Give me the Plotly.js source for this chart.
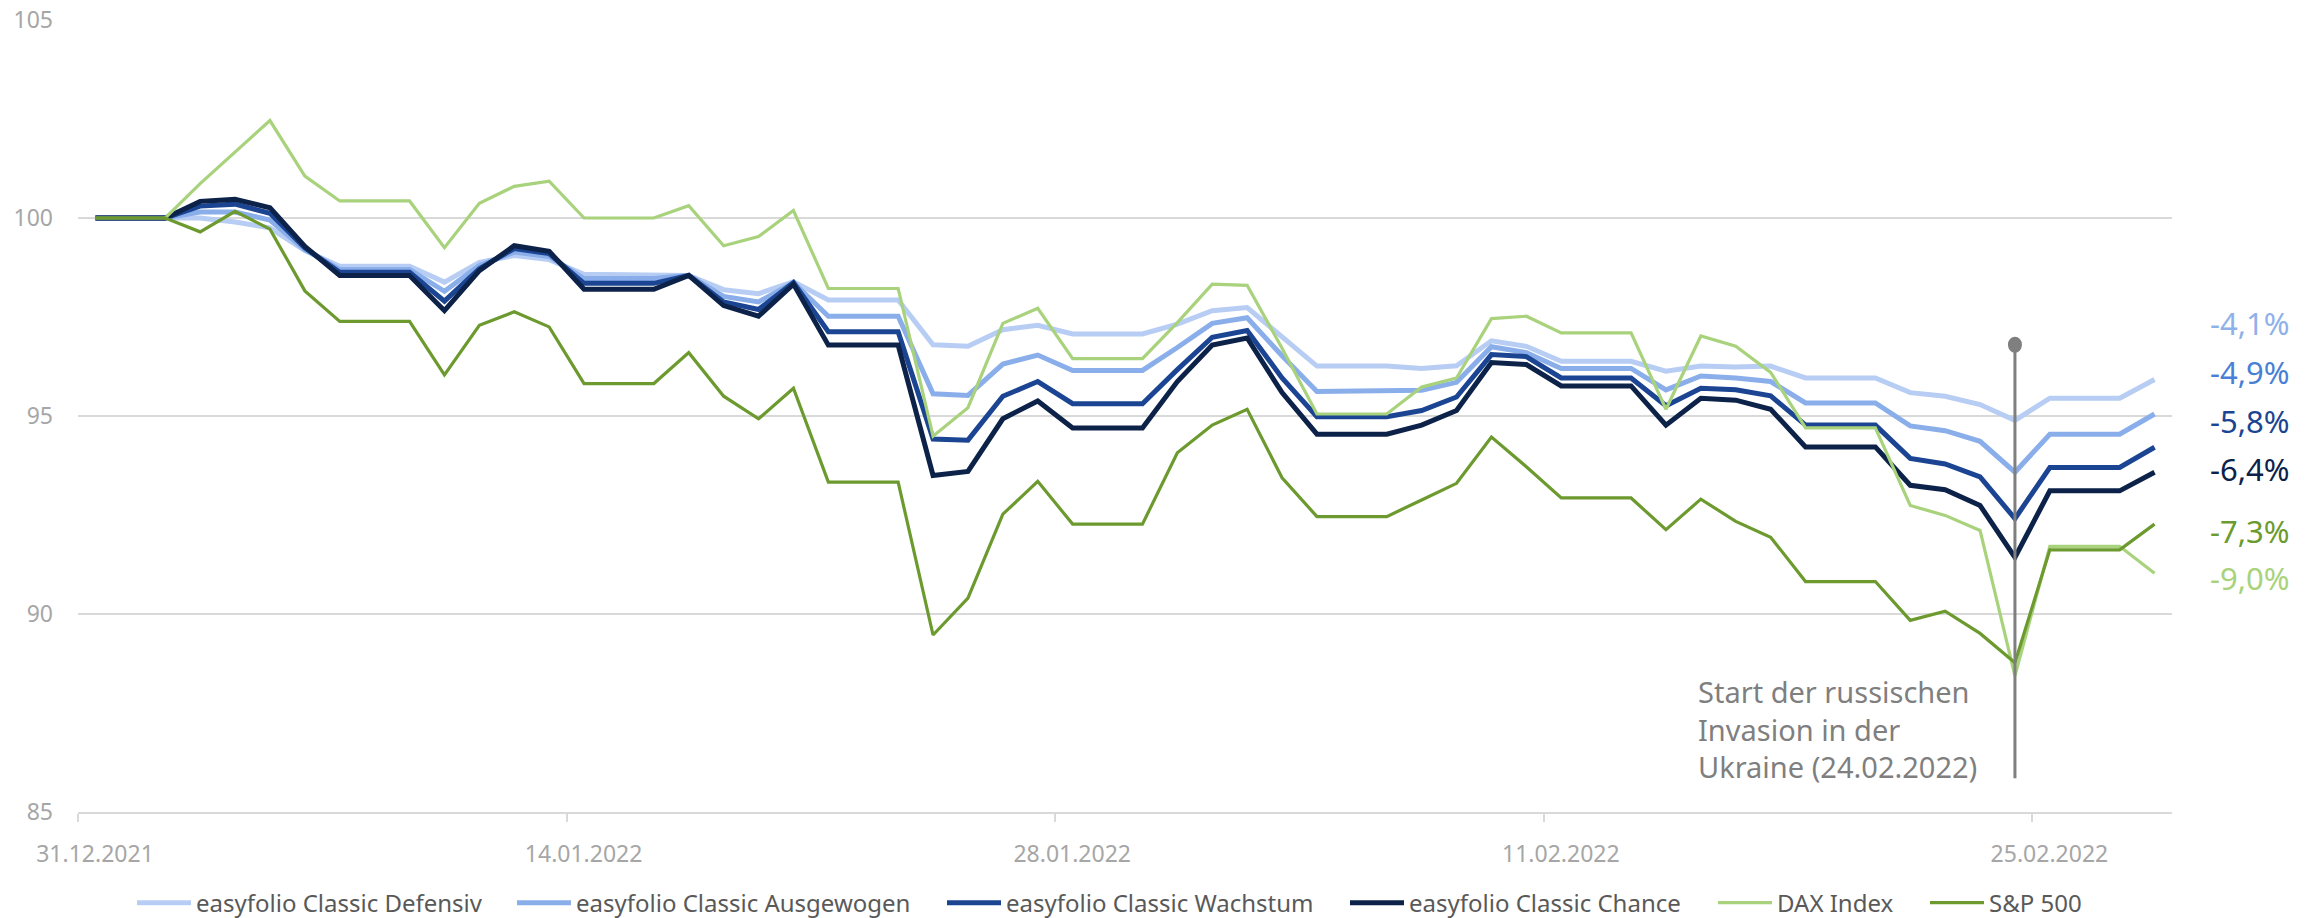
<!DOCTYPE html>
<html>
<head>
<meta charset="utf-8">
<script src="https://cdn.plot.ly/plotly-3.0.1.min.js"></script>
<style>
html,body{margin:0;padding:0;background:#ffffff;}
#chart{width:2315px;height:918px;}
</style>
</head>
<body>
<div id="chart"></div>
<script>
// ---------- DATA ----------
const dates = [
 '2021-12-31',
 '2022-01-01','2022-01-02','2022-01-03','2022-01-04','2022-01-05','2022-01-06','2022-01-07','2022-01-08','2022-01-09','2022-01-10',
 '2022-01-11','2022-01-12','2022-01-13','2022-01-14','2022-01-15','2022-01-16','2022-01-17','2022-01-18','2022-01-19','2022-01-20',
 '2022-01-21','2022-01-22','2022-01-23','2022-01-24','2022-01-25','2022-01-26','2022-01-27','2022-01-28','2022-01-29','2022-01-30','2022-01-31',
 '2022-02-01','2022-02-02','2022-02-03','2022-02-04','2022-02-05','2022-02-06','2022-02-07','2022-02-08','2022-02-09','2022-02-10',
 '2022-02-11','2022-02-12','2022-02-13','2022-02-14','2022-02-15','2022-02-16','2022-02-17','2022-02-18','2022-02-19','2022-02-20',
 '2022-02-21','2022-02-22','2022-02-23','2022-02-24','2022-02-25','2022-02-26','2022-02-27','2022-02-28'
];

const defensiv = [
 100,100,100,100.0,99.9,99.75,99.18,98.78,98.78,98.78,
 98.38,98.88,99.05,98.95,98.58,98.58,98.58,98.55,98.19,98.09,
 98.39,97.93,97.93,97.93,96.8,96.76,97.18,97.29,97.07,97.07,
 97.07,97.32,97.66,97.74,96.99,96.26,96.26,96.26,96.2,96.27,
 96.9,96.76,96.38,96.38,96.38,96.13,96.26,96.24,96.26,95.96,
 95.96,95.96,95.59,95.5,95.29,94.89,95.45,95.45,95.45,95.92
];
const ausgewogen = [
 100,100,100,100.15,100.15,99.95,99.2,98.7,98.7,98.7,
 98.15,98.8,99.14,99.03,98.47,98.47,98.47,98.55,98.02,97.88,
 98.37,97.52,97.52,97.52,95.56,95.52,96.31,96.54,96.15,96.15,
 96.15,96.73,97.34,97.48,96.52,95.62,95.62,95.62,95.65,95.85,
 96.75,96.6,96.2,96.2,96.2,95.66,96.01,95.96,95.87,95.33,
 95.33,95.33,94.75,94.63,94.36,93.58,94.54,94.54,94.54,95.05
];
const wachstum = [
 100,100,100,100.3,100.35,100.12,99.25,98.63,98.63,98.63,
 97.9,98.72,99.23,99.1,98.35,98.35,98.35,98.55,97.88,97.69,
 98.37,97.13,97.13,97.13,94.42,94.39,95.5,95.87,95.31,95.31,
 95.31,96.17,96.99,97.16,95.96,94.98,94.98,94.98,95.14,95.48,
 96.55,96.5,95.96,95.96,95.96,95.26,95.7,95.66,95.51,94.77,
 94.77,94.77,93.93,93.79,93.46,92.41,93.7,93.7,93.7,94.21
];
const chance = [
 100,100,100,100.42,100.47,100.26,99.28,98.55,98.55,98.55,
 97.66,98.67,99.3,99.16,98.2,98.2,98.2,98.55,97.79,97.52,
 98.33,96.79,96.79,96.79,93.5,93.6,94.93,95.38,94.7,94.7,
 94.7,95.87,96.79,96.97,95.59,94.54,94.54,94.54,94.77,95.14,
 96.35,96.3,95.76,95.76,95.76,94.77,95.45,95.4,95.17,94.22,
 94.22,94.22,93.25,93.14,92.74,91.43,93.11,93.11,93.11,93.58
];
const dax = [
 100,100,100,100.87,101.66,102.46,101.06,100.43,100.43,100.43,
 99.25,100.37,100.8,100.93,100.0,100.0,100.0,100.31,99.3,99.53,
 100.19,98.22,98.22,98.22,94.49,95.21,97.34,97.72,96.45,96.45,
 96.45,97.36,98.33,98.3,96.71,95.05,95.05,95.05,95.73,95.96,
 97.46,97.52,97.1,97.1,97.1,95.17,97.02,96.76,96.1,94.7,
 94.7,94.7,92.74,92.49,92.11,88.44,91.71,91.71,91.71,91.03
];
const sp500 = [
 100,100,100,99.65,100.17,99.72,98.16,97.39,97.39,97.39,
 96.04,97.29,97.63,97.25,95.82,95.82,95.82,96.6,95.5,94.93,
 95.7,93.33,93.33,93.33,89.47,90.4,92.52,93.35,92.27,92.27,
 92.27,94.07,94.77,95.17,93.44,92.46,92.46,92.46,92.88,93.3,
 94.47,93.72,92.93,92.93,92.93,92.13,92.9,92.34,91.94,90.82,
 90.82,90.82,89.84,90.07,89.51,88.77,91.62,91.62,91.62,92.27
];

const seriesNames = [
 'easyfolio Classic Defensiv',
 'easyfolio Classic Ausgewogen',
 'easyfolio Classic Wachstum',
 'easyfolio Classic Chance',
 'DAX Index',
 'S&P 500'
];
const endLabels = ['-4,1%','-4,9%','-5,8%','-6,4%','-7,3%','-9,0%'];

const tickDates = ['2021-12-31','2022-01-14','2022-01-28','2022-02-11','2022-02-25'];
const tickLabels = ['31.12.2021','14.01.2022','28.01.2022','11.02.2022','25.02.2022'];
const yTicks = [85, 90, 95, 100, 105];

const eventDate = '2022-02-24';
const eventText = 'Start der russischen<br>Invasion in der<br>Ukraine (24.02.2022)';

// ---------- STYLE / LAYOUT ----------
const allSeries = [defensiv, ausgewogen, wachstum, chance, dax, sp500];
const lineColors = ['#b7cdf3', '#8aaeea', '#1b4592', '#0c2249', '#a9d27c', '#6c9a2e'];
const lineWidths = [5, 5, 5, 5, 3.2, 3.2];
const labelColors = ['#8fb1ea', '#4a7fd6', '#1b4592', '#0c2249', '#6c9a2e', '#a9d27c'];
const labelYPos = [97.34, 96.10, 94.87, 93.66, 92.09, 90.90];
const legendLeftPx = [137, 517, 947, 1350, 1718, 1930];

const FONT = 'Noto Sans, Open Sans, sans-serif';
const W = 2315, H = 918;

function shiftDate(d, hours) {
  const t = new Date(d + 'T00:00:00Z').getTime() + hours * 3600 * 1000;
  return new Date(t).toISOString().replace('T', ' ').slice(0, 19);
}

const traces = allSeries.map((vals, i) => ({
  type: 'scatter',
  mode: 'lines',
  x: dates,
  y: vals,
  name: seriesNames[i],
  line: { color: lineColors[i], width: lineWidths[i] },
  legend: i === 0 ? 'legend' : 'legend' + (i + 1),
  hoverinfo: 'skip'
}));

const layout = {
  width: W,
  height: H,
  paper_bgcolor: '#ffffff',
  plot_bgcolor: '#ffffff',
  margin: { l: 78, r: 143, t: 20, b: 106, autoexpand: false },
  font: { family: FONT, color: '#595959' },
  hovermode: false,
  showlegend: true,
  xaxis: {
    type: 'date',
    range: [shiftDate(dates[0], -12), shiftDate(dates[dates.length - 1], 12)],
    tickmode: 'array',
    tickvals: tickDates.map(d => shiftDate(d, -12)),
    ticktext: tickLabels,
    ticks: 'outside',
    ticklen: 8,
    tickwidth: 2,
    tickcolor: '#d9d9d9',
    ticklabelshift: 17,
    ticklabelstandoff: 12,
    tickfont: { family: FONT, size: 23, color: '#a6a6a6' },
    showline: true,
    linecolor: '#d9d9d9',
    linewidth: 2,
    showgrid: false,
    zeroline: false,
    automargin: false,
    fixedrange: true
  },
  yaxis: {
    range: [85, 105],
    tickmode: 'array',
    tickvals: yTicks,
    ticktext: yTicks.map(String),
    ticks: '',
    ticklabelstandoff: 24,
    tickfont: { family: FONT, size: 23, color: '#a6a6a6' },
    showgrid: true,
    gridcolor: '#d9d9d9',
    gridwidth: 2,
    zeroline: false,
    showline: false,
    automargin: false,
    fixedrange: true
  },
  shapes: [
    {
      type: 'line', xref: 'x', yref: 'y',
      x0: eventDate, x1: eventDate, y0: 85.85, y1: 96.8,
      line: { color: '#7f7f7f', width: 3 },
      layer: 'above'
    },
    {
      type: 'circle', xref: 'x', yref: 'y',
      xsizemode: 'pixel', ysizemode: 'pixel',
      xanchor: eventDate, yanchor: 96.8,
      x0: -7, x1: 7, y0: -8, y1: 8,
      fillcolor: '#7f7f7f', line: { width: 0 },
      layer: 'above'
    }
  ],
  annotations: [
    {
      xref: 'x', yref: 'y', x: eventDate, y: 87.1,
      xanchor: 'right', yanchor: 'middle', xshift: -36,
      text: eventText, align: 'left', showarrow: false,
      font: { family: FONT, size: 29, color: '#7f7f7f' }
    }
  ].concat(endLabels.map((t, i) => ({
    xref: 'paper', yref: 'y', x: 1, y: labelYPos[i],
    xanchor: 'left', yanchor: 'middle', xshift: 36,
    text: t, showarrow: false,
    font: { family: FONT, size: 31, color: labelColors[i] }
  })))
};

legendLeftPx.forEach((px, i) => {
  const key = i === 0 ? 'legend' : 'legend' + (i + 1);
  layout[key] = {
    orientation: 'h',
    xref: 'container', yref: 'paper',
    x: (px - 5) / W, y: -0.115,
    xanchor: 'left', yanchor: 'middle',
    itemwidth: 54,
    bgcolor: 'rgba(0,0,0,0)',
    borderwidth: 0,
    font: { family: FONT, size: 24, color: '#595959' },
    itemclick: false, itemdoubleclick: false
  };
});

Plotly.newPlot('chart', traces, layout, { staticPlot: true, displayModeBar: false });
</script>
</body>
</html>
